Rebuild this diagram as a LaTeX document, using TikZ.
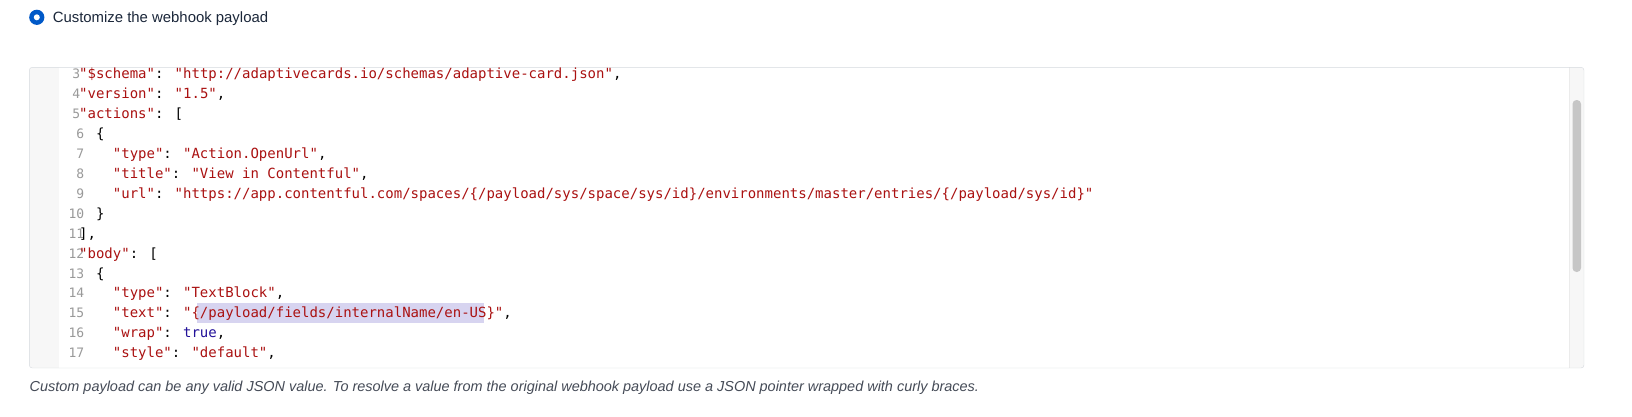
\documentclass[tikz,border=0pt]{standalone}
\usepackage{fontspec}
\setmainfont{Liberation Sans}
\newfontfamily\codefont{DejaVu Sans Mono}
\definecolor{radioblue}{HTML}{0059C8}
\definecolor{titlegray}{HTML}{1B273A}
\definecolor{helpgray}{HTML}{454B57}
\definecolor{framegray}{HTML}{D5D9DE}
\definecolor{guttergray}{HTML}{F7F7F7}
\definecolor{trackline}{HTML}{EBEBEB}
\definecolor{numgray}{HTML}{999999}
\definecolor{strred}{HTML}{AA1111}
\definecolor{atomblue}{HTML}{221199}
\definecolor{selpurple}{HTML}{D7D4F0}
\definecolor{thumbgray}{HTML}{C6C6C6}
\newcommand{\js}[1]{\textcolor{strred}{#1}}
\newcommand{\ja}[1]{\textcolor{atomblue}{#1}}
\tikzset{
  codeline/.style={anchor=base west, inner sep=0pt, font=\codefont\fontsize{14}{20}\selectfont},
  lnum/.style={anchor=base east, inner sep=0pt, text=numgray, font=\codefont\fontsize{13}{20}\selectfont},
  label/.style={anchor=base west, inner sep=0pt, text=titlegray, font=\fontsize{14.9}{18}\selectfont},
  helptext/.style={anchor=base west, inner sep=0pt, text=helpgray, font=\itshape\fontsize{14.45}{18}\selectfont}
}
\begin{document}
\begin{tikzpicture}[x=1pt,y=-1pt]
\useasboundingbox (0,0) rectangle (1632,416);
\fill[white] (0,0) rectangle (1632,416);
% radio option
\fill[radioblue] (36.8,17.3) circle (7.6);
\fill[white] (36.8,17.3) circle (3);
\node[label] (radiolabel) at (52.6,22.3) {Customize the webhook payload};
% editor
\begin{scope}
\clip[rounded corners=3pt] (29.3,67.3) rectangle (1584,368);
\fill[guttergray] (29.3,67.3) rectangle (59,368);
\fill[guttergray] (1569,67.3) rectangle (1584,368);
\draw[trackline] (1569,67.3) -- (1569,368);
\fill[thumbgray, rounded corners=4pt] (1572.5,100) rectangle (1581,272);
\end{scope}
\draw[framegray, rounded corners=3pt] (29.3,67.3) rectangle (1584,368);
\fill[selpurple] (197,303) rectangle (483.6,323);
% line numbers
\foreach \n in {3,4,5}
  \node[lnum] (ln\n) at (80.5,{78.7+(\n-3)*19.93}) {\n};
\foreach \n in {6,...,17}
  \node[lnum] (ln\n) at (84.5,{78.7+(\n-3)*19.93}) {\n};
% code
\node[codeline] (c3) at (79,78.7) {\js{"\$schema"}: \js{"http://adaptivecards.io/schemas/adaptive-card.json"},};
\node[codeline] (c4) at (79,98.6) {\js{"version"}: \js{"1.5"},};
\node[codeline] (c5) at (79,118.6) {\js{"actions"}: [};
\node[codeline] (c6) at (95.9,138.5) {\{};
\node[codeline] (c7) at (112.7,158.4) {\js{"type"}: \js{"Action.OpenUrl"},};
\node[codeline] (c8) at (112.7,178.4) {\js{"title"}: \js{"View in Contentful"},};
\node[codeline] (c9) at (112.7,198.3) {\js{"url"}: \js{"https://app.contentful.com/spaces/\{/payload/sys/space/sys/id\}/environments/master/entries/\{/payload/sys/id\}"}};
\node[codeline] (c10) at (95.9,218.2) {\}};
\node[codeline] (c11) at (79,238.1) {],};
\node[codeline] (c12) at (79,258.1) {\js{"body"}: [};
\node[codeline] (c13) at (95.9,278.0) {\{};
\node[codeline] (c14) at (112.7,297.9) {\js{"type"}: \js{"TextBlock"},};
\node[codeline] (c15) at (112.7,317.9) {\js{"text"}: \js{"\{/payload/fields/internalName/en-US\}"},};
\node[codeline] (c16) at (112.7,337.8) {\js{"wrap"}: \ja{true},};
\node[codeline] (c17) at (112.7,357.7) {\js{"style"}: \js{"default"},};
% help text
\node[helptext] (help) at (29.5,391.5) {Custom payload can be any valid JSON value. To resolve a value from the original webhook payload use a JSON pointer wrapped with curly braces.};
\end{tikzpicture}
\end{document}
